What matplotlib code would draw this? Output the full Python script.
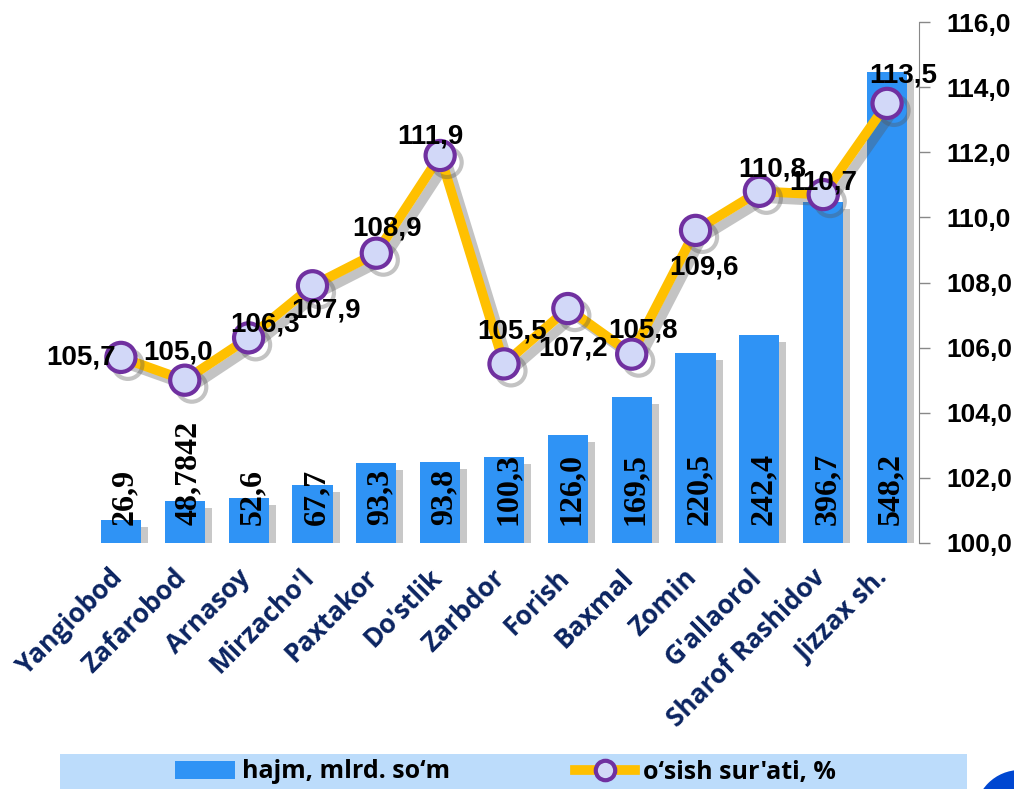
import matplotlib.pyplot as plt
import matplotlib.patheffects as pe
from matplotlib.patches import Rectangle, Ellipse
from matplotlib.lines import Line2D
from matplotlib.transforms import ScaledTranslation
import numpy as np

districts = ["Yangiobod", "Zafarobod", "Arnasoy", "Mirzacho'l", "Paxtakor", "Do'stlik",
             "Zarbdor", "Forish", "Baxmal", "Zomin", "G'allaorol", "Sharof Rashidov", "Jizzax sh."]
volume = [26.9, 48.7842, 52.6, 67.7, 93.3, 93.8, 100.3, 126.0, 169.5, 220.5, 242.4, 396.7, 548.2]
volume_labels = ["26,9", "48,7842", "52,6", "67,7", "93,3", "93,8", "100,3", "126,0",
                 "169,5", "220,5", "242,4", "396,7", "548,2"]
growth = [105.7, 105.0, 106.3, 107.9, 108.9, 111.9, 105.5, 107.2, 105.8, 109.6, 110.8, 110.7, 113.5]

# label offsets for the growth line (pixels)
growth_offsets = [(-40, 0), (-7, 28), (16, 13), (14, -25), (11, 25), (-10, 19), (8, 32),
                  (5, -40), (11, 24), (8, -37), (13, 22), (0, 12), (16, 28)]

fig = plt.figure(figsize=(10.14, 7.89), dpi=100)
ax = fig.add_axes([89 / 1014, 1 - 543 / 789, 830 / 1014, 521 / 789])
ax2 = ax.twinx()
ax.set_zorder(ax2.get_zorder() - 1)
ax2.patch.set_visible(False)

x = np.arange(len(districts))
bar_color = '#2F93F5'
ax.bar(x, volume, width=0.63, color=bar_color, zorder=2,
       path_effects=[pe.SimplePatchShadow(offset=(5, -5), shadow_rgbFace='#777777', alpha=0.4),
                     pe.Normal()])
ax.set_ylim(0, 606)
ax.set_xlim(-0.5, len(districts) - 0.5)
for s in ['left', 'top', 'bottom', 'right']:
    ax.spines[s].set_visible(False)
ax.set_yticks([])
ax.set_xticks(x)
ax.set_xticklabels(districts, rotation=45, ha='right', va='top', fontsize=19,
                   fontweight='bold', color='#0B2461', family='Open Sans')
ax.tick_params(axis='x', length=0, pad=15)
for lab in ax.get_xticklabels():
    lab.set_transform(lab.get_transform() + ScaledTranslation(0.07, 0, fig.dpi_scale_trans))

for i, lab in enumerate(volume_labels):
    ax.annotate(lab, (i, 0), xytext=(4, 18), textcoords='offset pixels',
                rotation=90, ha='center', va='bottom', fontsize=23,
                fontweight='bold', family='Liberation Serif', color='black', zorder=5)

ax2.plot(x, growth, color='#FFC000', lw=7, marker='o', ms=21,
         mfc='#D2D8F8', mec='#7030A0', mew=3, zorder=3, solid_joinstyle='round',
         path_effects=[pe.SimpleLineShadow(offset=(5, -5), shadow_color='#555555', alpha=0.35),
                       pe.Normal()])
ax2.set_ylim(100, 116)
ax2.set_yticks(np.arange(100, 116.1, 2))
ax2.set_yticklabels([f"{v:.1f}".replace('.', ',') for v in np.arange(100, 116.1, 2)],
                    fontsize=19, fontweight='bold', family='Liberation Sans')
ax2.tick_params(axis='y', length=8, width=1, color='#888888', pad=12)
for s in ['left', 'top', 'bottom']:
    ax2.spines[s].set_visible(False)
ax2.spines['right'].set_color('#888888')

for i, v in enumerate(growth):
    dx, dy = growth_offsets[i]
    ax2.annotate(f"{v:.1f}".replace('.', ','), (i, v), xytext=(dx, dy),
                 textcoords='offset pixels', ha='center', va='center',
                 fontsize=20, fontweight='bold', family='Liberation Sans', zorder=6)

# legend band
fig.patches.append(Rectangle((60 / 1014, 0), 907 / 1014, 35 / 789, transform=fig.transFigure,
                             facecolor='#BCDCFB', edgecolor='none', zorder=0))
fig.patches.append(Ellipse((1020 / 1014, -26 / 789), 90 / 1014, 90 / 789,
                           transform=fig.transFigure, facecolor='#0047D1', edgecolor='none'))
handles = [Rectangle((0, 0), 1, 1, facecolor=bar_color),
           Line2D([], [], color='#FFC000', lw=7, marker='o', ms=14, mfc='#D2D8F8',
                  mec='#7030A0', mew=3)]
fig.legend(handles, ["hajm, mlrd. so\u2018m", "o\u2018sish sur'ati, %"], ncol=2,
           loc='center', bbox_to_anchor=(505 / 1014, 17 / 789), frameon=False,
           prop={'family': 'Open Sans', 'weight': 'bold', 'size': 18},
           columnspacing=5, handlelength=2.4, handletextpad=0.3)

fig.savefig('out.png', dpi=100)
